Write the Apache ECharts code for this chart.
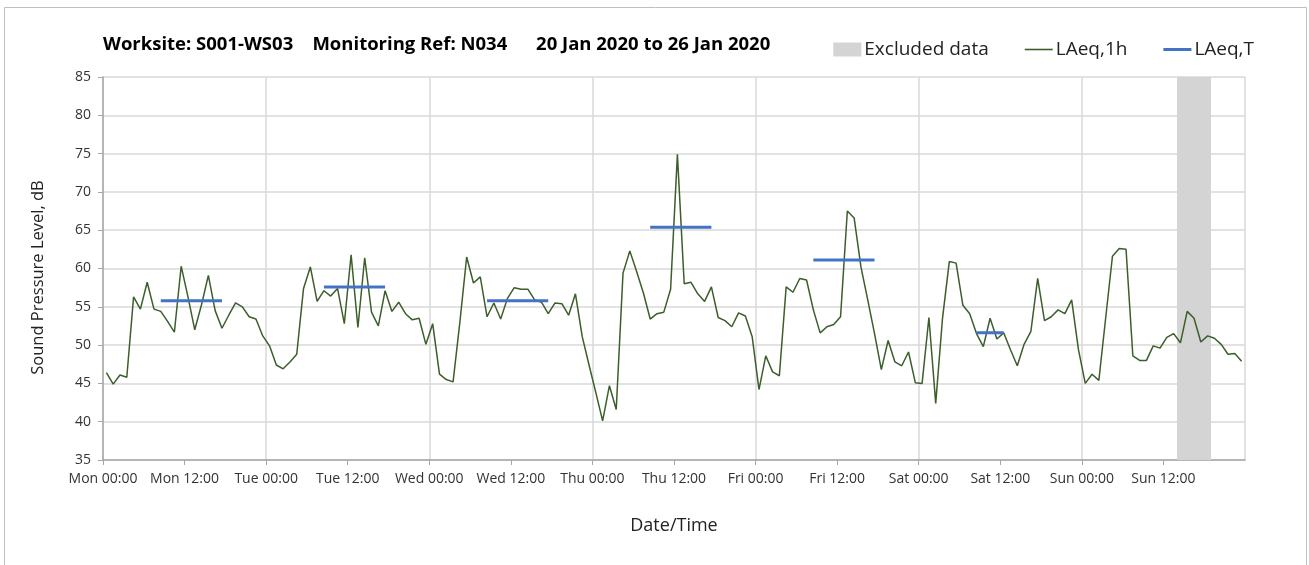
<!DOCTYPE html>
<html>
<head>
<meta charset="utf-8">
<script src="https://cdn.jsdelivr.net/npm/echarts@6/dist/echarts.min.js"></script>
<style>
  html, body { margin: 0; padding: 0; background: #fff; }
  #chart { width: 1309px; height: 565px; }
</style>
</head>
<body>
<div id="chart"></div>
<script>
// tick labels
const dayNames = ['Mon', 'Tue', 'Wed', 'Thu', 'Fri', 'Sat', 'Sun'];

// LAeq,1h - one value per hour, Mon 00:00 .. Sun 23:00
const hourlyLevels = [
  46.4, 44.9, 46.1, 45.8, 56.3, 54.7, 58.2, 54.7, 54.4, 53.1, 51.7, 60.3, 56.3, 52.0, 55.3, 59.1, 54.5, 52.2, 53.9, 55.5, 55.0, 53.7, 53.4, 51.2,
  49.9, 47.4, 46.9, 47.8, 48.8, 57.4, 60.2, 55.7, 57.1, 56.4, 57.4, 52.8, 61.8, 52.3, 61.4, 54.3, 52.5, 57.1, 54.4, 55.6, 54.1, 53.3, 53.5, 50.1,
  52.8, 46.2, 45.5, 45.2, 53.0, 61.5, 58.1, 58.9, 53.7, 55.5, 53.4, 56.1, 57.5, 57.3, 57.3, 55.9, 55.6, 54.1, 55.5, 55.4, 53.9, 56.7, 51.1, 47.4,
  43.8, 40.1, 44.7, 41.6, 59.4, 62.3, 59.6, 56.8, 53.4, 54.1, 54.3, 57.3, 74.9, 58.0, 58.2, 56.7, 55.7, 57.6, 53.6, 53.2, 52.4, 54.2, 53.8, 51.1,
  44.2, 48.6, 46.5, 46.0, 57.6, 56.9, 58.7, 58.5, 54.6, 51.6, 52.4, 52.7, 53.7, 67.5, 66.6, 60.2, 55.9, 51.5, 46.8, 50.6, 47.8, 47.3, 49.1, 45.1,
  45.0, 53.6, 42.4, 53.5, 60.9, 60.7, 55.2, 54.1, 51.5, 49.8, 53.5, 50.8, 51.6, 49.4, 47.3, 50.1, 51.8, 58.7, 53.2, 53.7, 54.6, 54.1, 55.9, 49.4,
  45.0, 46.2, 45.4, 53.5, 61.6, 62.6, 62.5, 48.6, 48.0, 48.0, 49.9, 49.6, 51.0, 51.5, 50.3, 54.4, 53.5, 50.4, 51.2, 50.9, 50.1, 48.8, 48.9, 47.9
];

// LAeq,T - daytime period level, hour index of first and last hour
const periodStart = [8, 32, 56, 80, 104, 128];
const periodEnd = [17, 41, 65, 89, 113, 132];
const periodLevel = [55.8, 57.6, 55.8, 65.4, 61.1, 51.6];

// excluded data window (hours from Mon 00:00)
const excludedFrom = 158;
const excludedTo = 163;

function createChart() {
  const chart = echarts.init(document.getElementById('chart'));

  // points sit in the middle of their hour
  const hourlyData = hourlyLevels.map((v, i) => [i + 0.5, v]);

  const periodData = [];
  periodStart.forEach((s, k) => {
    periodData.push([s + 0.5, periodLevel[k]]);
    periodData.push([periodEnd[k] + 0.5, periodLevel[k]]);
    periodData.push([periodEnd[k] + 1, null]);
  });

  const font = '"Open Sans", "Noto Sans", sans-serif';
  // plain line for the legend (keeps aspect, so stays thin)
  const thinLine = 'path://M0,0 L28,0 L28,1.6 L0,1.6 Z';
  const thickLine = 'path://M0,0 L28,0 L28,3 L0,3 Z';

  const options = {
    animation: false,
    textStyle: { fontFamily: font },
    graphic: [
      {
        type: 'rect',
        shape: { x: 4.5, y: 7.5, width: 1302, height: 570 },
        style: { fill: 'none', stroke: '#bfbfbf', lineWidth: 1 },
        silent: true
      }
    ],
    title: {
      text: 'Worksite: S001-WS03    Monitoring Ref: N034      20 Jan 2020 to 26 Jan 2020',
      left: 98,
      top: 30,
      textStyle: { fontFamily: font, fontSize: 18.5, fontWeight: 'bold', color: '#000' }
    },
    legend: {
      right: 50,
      top: 35,
      itemGap: 36,
      itemWidth: 28,
      itemHeight: 14,
      textStyle: { fontFamily: font, fontSize: 19, color: '#222', padding: [0, 0, 0, -2] },
      data: [
        { name: 'Excluded data', icon: 'rect', itemStyle: { color: '#d4d4d4' } },
        { name: 'LAeq,1h', icon: thinLine, itemStyle: { color: '#3b5e2b' } },
        { name: 'LAeq,T', icon: thickLine, itemStyle: { color: '#4472c4' } }
      ]
    },
    grid: {
      left: 103,
      right: 64,
      top: 77,
      bottom: 105
    },
    xAxis: [
      {
        type: 'value',
        min: 0,
        max: 168,
        interval: 12,
        name: 'Date/Time',
        nameLocation: 'middle',
        nameGap: 57,
        nameTextStyle: { fontFamily: font, fontSize: 18, color: '#222' },
        axisLine: { lineStyle: { color: '#a6a6a6', width: 1.5 } },
        axisTick: { show: true, length: 5, lineStyle: { color: '#a6a6a6' } },
        axisLabel: {
          margin: 12,
          fontSize: 14,
          color: '#333',
          showMaxLabel: false,
          formatter: function (v) {
            if (v >= 168) return '';
            return dayNames[Math.floor(v / 24)] + (v % 24 === 0 ? ' 00:00' : ' 12:00');
          }
        },
        splitLine: { show: false }
      },
      {
        // day boundaries grid only
        type: 'value',
        min: 0,
        max: 168,
        interval: 24,
        position: 'bottom',
        axisLine: { show: false },
        axisTick: { show: false },
        axisLabel: { show: false },
        splitLine: { show: true, lineStyle: { color: '#d9d9d9', width: 1.5 } }
      }
    ],
    yAxis: {
      type: 'value',
      min: 35,
      max: 85,
      interval: 5,
      name: 'Sound Pressure Level, dB',
      nameLocation: 'middle',
      nameGap: 56,
      nameTextStyle: { fontFamily: font, fontSize: 16.5, color: '#222', padding: [0, 18, 0, 0] },
      axisLine: { show: true, lineStyle: { color: '#a6a6a6', width: 1.5 } },
      axisTick: { show: true, length: 5, lineStyle: { color: '#a6a6a6' } },
      axisLabel: { margin: 12, fontSize: 14, color: '#333' },
      splitLine: { lineStyle: { color: '#d9d9d9', width: 1.5 } }
    },
    series: [
      {
        name: 'Excluded data',
        type: 'line',
        data: [],
        itemStyle: { color: '#d4d4d4' },
        markArea: {
          silent: true,
          itemStyle: { color: '#d4d4d4' },
          data: [[{ xAxis: excludedFrom }, { xAxis: excludedTo }]]
        }
      },
      {
        name: 'LAeq,1h',
        type: 'line',
        data: hourlyData,
        symbol: 'none',
        itemStyle: { color: '#3b5e2b' },
        lineStyle: { color: '#3b5e2b', width: 1.5 },
        z: 3
      },
      {
        name: 'LAeq,T',
        type: 'line',
        data: periodData,
        symbol: 'none',
        connectNulls: false,
        itemStyle: { color: '#4472c4' },
        lineStyle: { color: '#4472c4', width: 3 },
        z: 4
      }
    ]
  };

  chart.setOption(options);
}

createChart();
</script>
</body>
</html>
